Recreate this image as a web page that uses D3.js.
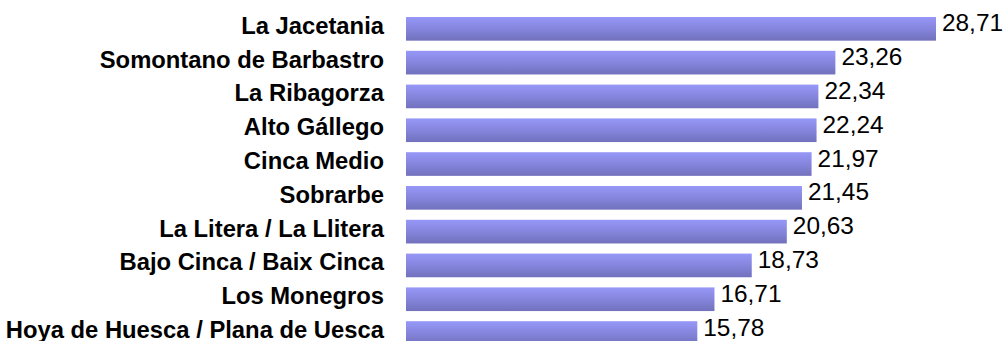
<!DOCTYPE html>
<html>
<head>
<meta charset="utf-8">
<script src="https://cdn.jsdelivr.net/npm/d3@7"></script>
<style>
  html, body { margin: 0; padding: 0; background: #fff; }
  svg { display: block; }
</style>
</head>
<body>
<svg id="chart" width="1003" height="341"></svg>
<script>
const categories = [
  "La Jacetania",
  "Somontano de Barbastro",
  "La Ribagorza",
  "Alto Gállego",
  "Cinca Medio",
  "Sobrarbe",
  "La Litera / La Llitera",
  "Bajo Cinca / Baix Cinca",
  "Los Monegros",
  "Hoya de Huesca / Plana de Uesca"
];
const values = [28.71, 23.26, 22.34, 22.24, 21.97, 21.45, 20.63, 18.73, 16.71, 15.78];
const valueLabels = ["28,71", "23,26", "22,34", "22,24", "21,97", "21,45", "20,63", "18,73", "16,71", "15,78"];

const svg = d3.select("#chart");
const defs = svg.append("defs");
const grad = defs.append("linearGradient")
  .attr("id", "barGrad").attr("x1", 0).attr("y1", 0).attr("x2", 0).attr("y2", 1);
grad.append("stop").attr("offset", "0%").attr("stop-color", "#9797f8");
grad.append("stop").attr("offset", "45%").attr("stop-color", "#8787e0");
grad.append("stop").attr("offset", "100%").attr("stop-color", "#7171bd");

const x = d3.scaleLinear().domain([0, 30]).range([406, 406 + 30 * 18.46]);
const y = d3.scaleBand().domain(categories).range([11.93, 349.93])
  .paddingInner(0.3).paddingOuter(0.15);

const rows = svg.append("g").selectAll("g")
  .data(categories.map((c, i) => ({ c, v: values[i], l: valueLabels[i] })))
  .join("g");

rows.append("rect")
  .attr("x", x(0))
  .attr("y", d => y(d.c))
  .attr("width", d => x(d.v) - x(0))
  .attr("height", y.bandwidth())
  .attr("fill", "url(#barGrad)");

rows.append("text")
  .attr("x", 384)
  .attr("y", d => y(d.c) + y.bandwidth() / 2 + 5)
  .attr("text-anchor", "end")
  .attr("font-family", "Liberation Sans, Arial, sans-serif")
  .attr("font-weight", "bold")
  .attr("font-size", "23.8px")
  .attr("fill", "#000")
  .text(d => d.c);

rows.append("text")
  .attr("x", d => x(d.v) + 6)
  .attr("y", d => y(d.c) + y.bandwidth() / 2 + 2.5)
  .attr("font-family", "Liberation Sans, Arial, sans-serif")
  .attr("font-size", "24.4px")
  .attr("fill", "#000")
  .text(d => d.l);
</script>
</body>
</html>
